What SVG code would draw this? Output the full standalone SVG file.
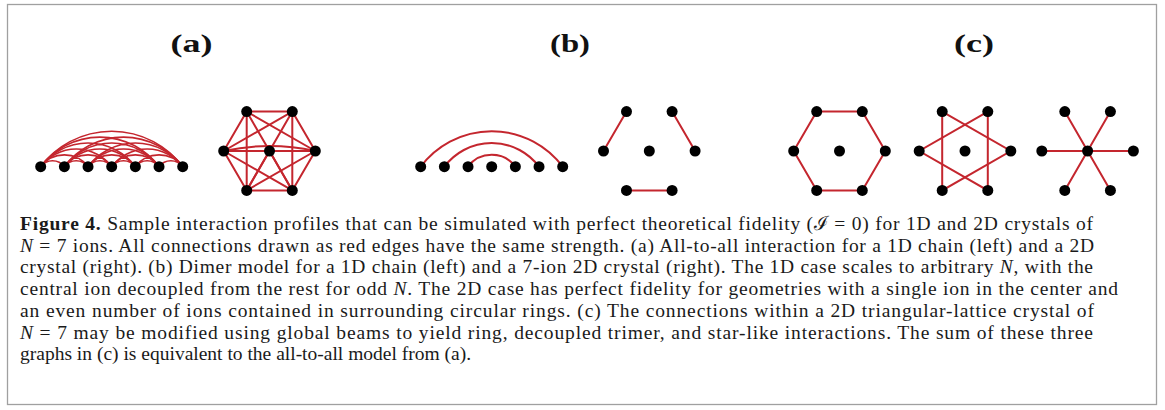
<svg xmlns="http://www.w3.org/2000/svg" width="1165" height="410" viewBox="0 0 1165 410">
<style>
.frame{fill:#fff;stroke:#a0a0a0;stroke-width:1.3}
.lbl{font-family:"Liberation Serif",serif;font-weight:bold;font-size:26px;fill:#111;text-anchor:middle}
.cap{font-family:"Liberation Serif","DejaVu Serif",serif;font-size:19.5px;fill:#1a1a1a}
.e{fill:none;stroke:#c4262e;stroke-width:2;stroke-linecap:round}
.ea{fill:none;stroke:#c4262e;stroke-width:1.6}
.ion{fill:#000}
</style>
<rect class="frame" x="7.5" y="4.5" width="1149" height="400"/>
<text class="lbl" x="191.5" y="52" textLength="42" lengthAdjust="spacingAndGlyphs">(a)</text>
<text class="lbl" x="570" y="52" textLength="40" lengthAdjust="spacingAndGlyphs">(b)</text>
<text class="lbl" x="974" y="52" textLength="40" lengthAdjust="spacingAndGlyphs">(c)</text>

<g id="connectors">
<g id="a-chain-edges" class="ea">
<path d="M40.7 166.7A14.79 14.79 0 0 1 64.37 166.7M64.37 166.7A14.79 14.79 0 0 1 88.03 166.7M88.03 166.7A14.79 14.79 0 0 1 111.7 166.7M111.7 166.7A14.79 14.79 0 0 1 135.37 166.7M135.37 166.7A14.79 14.79 0 0 1 159.03 166.7M159.03 166.7A14.79 14.79 0 0 1 182.7 166.7"/>
<path d="M40.7 166.7A29.59 29.59 0 0 1 88.03 166.7M64.37 166.7A29.59 29.59 0 0 1 111.7 166.7M88.03 166.7A29.59 29.59 0 0 1 135.37 166.7M111.7 166.7A29.59 29.59 0 0 1 159.03 166.7M135.37 166.7A29.59 29.59 0 0 1 182.7 166.7"/>
<path d="M40.7 166.7A44.38 44.38 0 0 1 111.7 166.7M64.37 166.7A44.38 44.38 0 0 1 135.37 166.7M88.03 166.7A44.38 44.38 0 0 1 159.03 166.7M111.7 166.7A44.38 44.38 0 0 1 182.7 166.7"/>
<path d="M40.7 166.7A59.18 59.18 0 0 1 135.37 166.7M64.37 166.7A59.18 59.18 0 0 1 159.03 166.7M88.03 166.7A59.18 59.18 0 0 1 182.7 166.7"/>
<path d="M40.7 166.7A73.97 73.97 0 0 1 159.03 166.7M64.37 166.7A73.97 73.97 0 0 1 182.7 166.7"/>
<path d="M40.7 166.7A88.77 88.77 0 0 1 182.7 166.7"/>
</g>
<g id="a-hex-edges" class="e">
<path d="M246.7 111.6L292.3 111.6M246.7 111.6L223.7 151M246.7 111.6L269.5 151M246.7 111.6L315.3 151M246.7 111.6L246.7 190.4M246.7 111.6L292.3 190.4"/>
<path d="M292.3 111.6L223.7 151M292.3 111.6L269.5 151M292.3 111.6L315.3 151M292.3 111.6L246.7 190.4M292.3 111.6L292.3 190.4"/>
<path d="M223.7 151L269.5 151M223.7 151Q269.5 141 315.3 151M223.7 151L246.7 190.4M223.7 151L292.3 190.4"/>
<path d="M269.5 151L315.3 151M269.5 151L246.7 190.4M269.5 151L292.3 190.4"/>
<path d="M315.3 151L246.7 190.4M315.3 151L292.3 190.4M246.7 190.4L292.3 190.4"/>
</g>
<g id="b-chain-edges" class="e">
<path d="M420.7 166.7A88.77 88.77 0 0 1 562.7 166.7"/>
<path d="M444.37 166.7A59.18 59.18 0 0 1 539.03 166.7"/>
<path d="M468.03 166.7A29.59 29.59 0 0 1 515.37 166.7"/>
</g>
<g id="b-hex-edges" class="e">
<path d="M603.5 151L626.5 111.6M672.1 111.6L695.1 151M626.5 190.4L672.1 190.4"/>
</g>
<g id="c-ring-edges" class="e">
<path d="M816.7 111.6L862.3 111.6L885.3 151L862.3 190.4L816.7 190.4L793.7 151Z"/>
</g>
<g id="c-trimer-edges" class="e">
<path d="M942.2 111.6L1010.8 151L942.2 190.4Z"/>
<path d="M987.8 111.6L919.2 151L987.8 190.4Z"/>
</g>
<g id="c-star-edges" class="e">
<path d="M1087.6 151L1064.8 111.6M1087.6 151L1110.4 111.6M1087.6 151L1041.8 151M1087.6 151L1133.4 151M1087.6 151L1064.8 190.4M1087.6 151L1110.4 190.4"/>
</g>
</g>

<g id="a-chain">
<g id="a1-n0"><circle class="ion" cx="40.7" cy="166.7" r="5.5"/></g>
<g id="a1-n1"><circle class="ion" cx="64.37" cy="166.7" r="5.5"/></g>
<g id="a1-n2"><circle class="ion" cx="88.03" cy="166.7" r="5.5"/></g>
<g id="a1-n3"><circle class="ion" cx="111.7" cy="166.7" r="5.5"/></g>
<g id="a1-n4"><circle class="ion" cx="135.37" cy="166.7" r="5.5"/></g>
<g id="a1-n5"><circle class="ion" cx="159.03" cy="166.7" r="5.5"/></g>
<g id="a1-n6"><circle class="ion" cx="182.7" cy="166.7" r="5.5"/></g>
</g>
<g id="a-hex">
<g id="a2-tl"><circle class="ion" cx="246.7" cy="111.6" r="5.5"/></g>
<g id="a2-tr"><circle class="ion" cx="292.3" cy="111.6" r="5.5"/></g>
<g id="a2-l"><circle class="ion" cx="223.7" cy="151" r="5.5"/></g>
<g id="a2-c"><circle class="ion" cx="269.5" cy="151" r="5.5"/></g>
<g id="a2-r"><circle class="ion" cx="315.3" cy="151" r="5.5"/></g>
<g id="a2-bl"><circle class="ion" cx="246.7" cy="190.4" r="5.5"/></g>
<g id="a2-br"><circle class="ion" cx="292.3" cy="190.4" r="5.5"/></g>
</g>
<g id="b-chain">
<g id="b1-n0"><circle class="ion" cx="420.7" cy="166.7" r="5.5"/></g>
<g id="b1-n1"><circle class="ion" cx="444.37" cy="166.7" r="5.5"/></g>
<g id="b1-n2"><circle class="ion" cx="468.03" cy="166.7" r="5.5"/></g>
<g id="b1-n3"><circle class="ion" cx="491.7" cy="166.7" r="5.5"/></g>
<g id="b1-n4"><circle class="ion" cx="515.37" cy="166.7" r="5.5"/></g>
<g id="b1-n5"><circle class="ion" cx="539.03" cy="166.7" r="5.5"/></g>
<g id="b1-n6"><circle class="ion" cx="562.7" cy="166.7" r="5.5"/></g>
</g>
<g id="b-hex">
<g id="b2-tl"><circle class="ion" cx="626.5" cy="111.6" r="5.5"/></g>
<g id="b2-tr"><circle class="ion" cx="672.1" cy="111.6" r="5.5"/></g>
<g id="b2-l"><circle class="ion" cx="603.5" cy="151" r="5.5"/></g>
<g id="b2-c"><circle class="ion" cx="649.3" cy="151" r="5.5"/></g>
<g id="b2-r"><circle class="ion" cx="695.1" cy="151" r="5.5"/></g>
<g id="b2-bl"><circle class="ion" cx="626.5" cy="190.4" r="5.5"/></g>
<g id="b2-br"><circle class="ion" cx="672.1" cy="190.4" r="5.5"/></g>
</g>
<g id="c-ring">
<g id="c1-tl"><circle class="ion" cx="816.7" cy="111.6" r="5.5"/></g>
<g id="c1-tr"><circle class="ion" cx="862.3" cy="111.6" r="5.5"/></g>
<g id="c1-l"><circle class="ion" cx="793.7" cy="151" r="5.5"/></g>
<g id="c1-c"><circle class="ion" cx="839.5" cy="151" r="5.5"/></g>
<g id="c1-r"><circle class="ion" cx="885.3" cy="151" r="5.5"/></g>
<g id="c1-bl"><circle class="ion" cx="816.7" cy="190.4" r="5.5"/></g>
<g id="c1-br"><circle class="ion" cx="862.3" cy="190.4" r="5.5"/></g>
</g>
<g id="c-trimer">
<g id="c2-tl"><circle class="ion" cx="942.2" cy="111.6" r="5.5"/></g>
<g id="c2-tr"><circle class="ion" cx="987.8" cy="111.6" r="5.5"/></g>
<g id="c2-l"><circle class="ion" cx="919.2" cy="151" r="5.5"/></g>
<g id="c2-c"><circle class="ion" cx="965" cy="151" r="5.5"/></g>
<g id="c2-r"><circle class="ion" cx="1010.8" cy="151" r="5.5"/></g>
<g id="c2-bl"><circle class="ion" cx="942.2" cy="190.4" r="5.5"/></g>
<g id="c2-br"><circle class="ion" cx="987.8" cy="190.4" r="5.5"/></g>
</g>
<g id="c-star">
<g id="c3-tl"><circle class="ion" cx="1064.8" cy="111.6" r="5.5"/></g>
<g id="c3-tr"><circle class="ion" cx="1110.4" cy="111.6" r="5.5"/></g>
<g id="c3-l"><circle class="ion" cx="1041.8" cy="151" r="5.5"/></g>
<g id="c3-c"><circle class="ion" cx="1087.6" cy="151" r="5.5"/></g>
<g id="c3-r"><circle class="ion" cx="1133.4" cy="151" r="5.5"/></g>
<g id="c3-bl"><circle class="ion" cx="1064.8" cy="190.4" r="5.5"/></g>
<g id="c3-br"><circle class="ion" cx="1110.4" cy="190.4" r="5.5"/></g>
</g>

<g id="caption" class="cap">
<text x="20" y="230" textLength="1073" lengthAdjust="spacing"><tspan font-weight="bold">Figure 4.</tspan> Sample interaction profiles that can be simulated with perfect theoretical fidelity (ℐ = 0) for 1D and 2D crystals of</text>
<text x="20" y="251.7" textLength="1074" lengthAdjust="spacing"><tspan font-style="italic">N</tspan> = 7 ions. All connections drawn as red edges have the same strength. (a) All-to-all interaction for a 1D chain (left) and a 2D</text>
<text x="20" y="273.4" textLength="1073" lengthAdjust="spacing">crystal (right). (b) Dimer model for a 1D chain (left) and a 7-ion 2D crystal (right). The 1D case scales to arbitrary <tspan font-style="italic">N</tspan>, with the</text>
<text x="20" y="295.1" textLength="1098" lengthAdjust="spacing">central ion decoupled from the rest for odd <tspan font-style="italic">N</tspan>. The 2D case has perfect fidelity for geometries with a single ion in the center and</text>
<text x="20" y="316.8" textLength="1074" lengthAdjust="spacing">an even number of ions contained in surrounding circular rings. (c) The connections within a 2D triangular-lattice crystal of</text>
<text x="20" y="338.5" textLength="1073" lengthAdjust="spacing"><tspan font-style="italic">N</tspan> = 7 may be modified using global beams to yield ring, decoupled trimer, and star-like interactions. The sum of these three</text>
<text x="20" y="360.2">graphs in (c) is equivalent to the all-to-all model from (a).</text>
</g>
</svg>
